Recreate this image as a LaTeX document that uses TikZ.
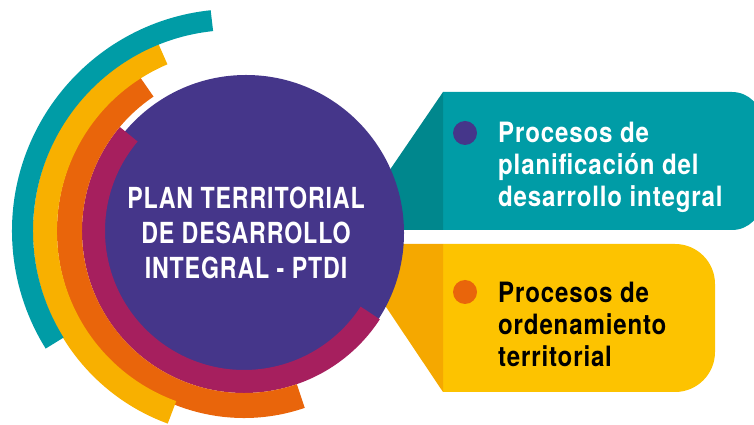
\documentclass[tikz,border=0pt]{standalone}
\usepackage{fontspec}
\setmainfont{TeX Gyre Heros}[FakeStretch=0.8,LetterSpace=3]
\newfontfamily\boxfont{TeX Gyre Heros}[FakeStretch=0.86,LetterSpace=3]
\usetikzlibrary{positioning}
\definecolor{teal}{HTML}{009CA6}
\definecolor{darkteal}{HTML}{00878D}
\definecolor{gold}{HTML}{FDC300}
\definecolor{darkgold}{HTML}{F5A800}
\definecolor{amber}{HTML}{F8B000}
\definecolor{orange}{HTML}{E9650B}
\definecolor{plum}{HTML}{A61F5E}
\definecolor{purple}{HTML}{45368A}
\tikzset{
  band/.style={
    line width=#1,
    line cap=butt,
  },
  hub/.style={
    circle,
    fill=purple,
    minimum size=316pt,
    inner sep=0,
    text=white,
    align=center,
    node font=\bfseries\fontsize{29}{35}\selectfont,
  },
  bullet/.style={
    circle,
    minimum size=24pt,
    inner sep=0,
  },
  boxtext/.style={
    align=left,
    inner sep=0,
    anchor=base west,
    node font=\boxfont\bfseries\fontsize{28}{32}\selectfont,
  },
}
\begin{document}
\begin{tikzpicture}[x=1pt,y=1pt]
  \useasboundingbox (0,0) rectangle (754,425);

  % callout boxes
  \fill [teal] (443,195) -- (443,333) -- (732,333)
    arc[start angle=90,end angle=0,radius=30pt] -- (762,225)
    arc[start angle=0,end angle=-90,radius=30pt] -- cycle;
  \fill [darkteal] (443,333) -- (443,195) -- (370,195) -- (370,226) -- cycle;
  \fill [gold] (443,33) -- (443,181) -- (675,181)
    arc[start angle=90,end angle=0,radius=40pt] -- (715,73)
    arc[start angle=0,end angle=-90,radius=40pt] -- cycle;
  \fill [darkgold] (443,181) -- (443,33) -- (370,142) -- (370,181) -- cycle;

  \node (ptdi) [hub] at (246,192) {PLAN TERRITORIAL\\DE DESARROLLO\\INTEGRAL - PTDI};

  % rings
  \coordinate (ringcenter) at (244,194);
  \coordinate (ringleft) at (238,194);
  \coordinate (ringouter) at (234,194);
  \draw [band=23pt,plum] ([shift={(140:150.5pt)}]ringcenter)
    arc[start angle=140,end angle=327,radius=150.5pt];
  \draw [band=25pt,orange] ([shift={(124:174.5pt)}]ringcenter)
    arc[start angle=124,end angle=289,radius=174.5pt];
  \draw [band=24pt,amber] ([shift={(113:193pt)}]ringleft)
    arc[start angle=113,end angle=250,radius=193pt];
  \draw [band=21pt,teal] ([shift={(96:211.5pt)}]ringouter)
    arc[start angle=96,end angle=212,radius=211.5pt];

  \node (dotplan) [bullet,fill=purple] at (465,292) {};
  \node (dotorden) [bullet,fill=orange] at (465,133) {};

  \node (plantext) [boxtext,text=white] at (498,218) {Procesos de\\planificación del\\desarrollo integral};
  \node (ordentext) [boxtext,text=black] at (498,58) {Procesos de\\ordenamiento\\territorial};
\end{tikzpicture}
\end{document}
